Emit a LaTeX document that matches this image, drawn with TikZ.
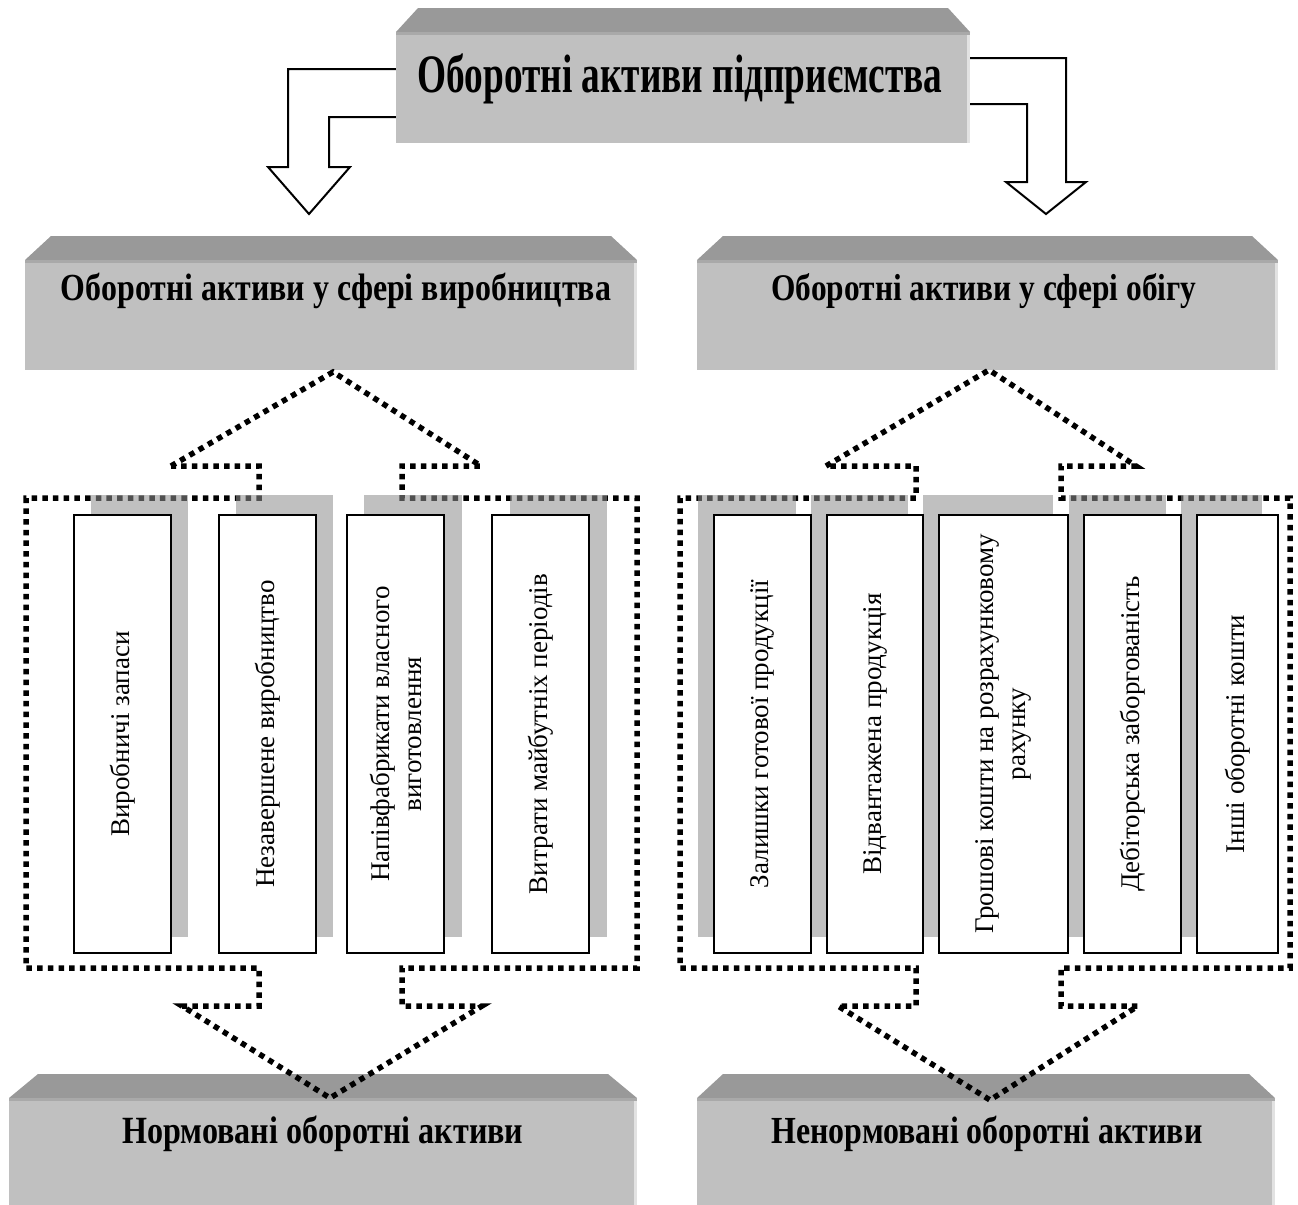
\documentclass[tikz,border=0pt]{standalone}
\usepackage{fontspec}
\setmainfont{Liberation Serif}
\usetikzlibrary{calc,fit}
\definecolor{boxgrey}{HTML}{C0C0C0}
\definecolor{bevelgrey}{HTML}{999999}
\definecolor{edgegrey}{HTML}{E2E2E2}
\definecolor{shadowgrey}{HTML}{8F8F8F}
\tikzset{
  greybox/.style={fill=boxgrey, draw=none, inner sep=0pt},
  bevel/.style={fill=bevelgrey, draw=none},
  hollowarrow/.style={draw=black, fill=white, line width=2bp, line join=miter},
  dotline/.style={draw=black, line width=5.5bp, dash pattern=on 5.5bp off 5.2bp, line join=miter},
  itembox/.style={draw=black, fill=white, line width=2bp, inner sep=0pt},
  shadowbox/.style={fill=shadowgrey, fill opacity=0.56, draw=none},
  itemtext/.style={rotate=90, align=center, font=\fontsize{27bp}{32bp}\selectfont, inner sep=0pt},
  titletext/.style={anchor=base, inner sep=0pt},
}
\newcommand\titlebox[7]{% name, x1, x2, ytop, ybot, inset, bevel height
  \fill[bevel] (#2,#4) -- ({#2+#6},{#4-#7}) -- ({#3-#6},{#4-#7}) -- (#3,#4) -- cycle;
  \node[greybox, fit={(#2,#4) (#3,#5)}] (#1) {};
  \fill[edgegrey] ({#3-3},#4) rectangle (#3,#5);
  \fill[fill=bevelgrey!60!boxgrey] (#2,#4) rectangle (#3,{#4+3});
}
\newcommand\tstretch[3]{\scalebox{1}[#1]{\resizebox{#2}{!}{\bfseries #3}}}
\begin{document}
\begin{tikzpicture}[x=1bp,y=-1bp]
\useasboundingbox (0,0) rectangle (1298,1205);

% ---------- title boxes ----------
\titlebox{top}{396}{970}{32}{143}{22}{24}
\titlebox{prod}{25}{637}{260}{370}{26}{24}
\titlebox{circ}{697}{1278}{260}{370}{26}{24}
\titlebox{norm}{9}{637}{1098}{1215}{29}{24}
\titlebox{nonnorm}{697}{1275}{1098}{1215}{26}{24}

\node[titletext] (toptext) at (680,92) {\tstretch{1.45}{525bp}{Оборотні активи підприємства}};
\node[titletext] (prodtext) at (336,300) {\tstretch{1.2}{550bp}{Оборотні активи у сфері виробництва}};
\node[titletext] (circtext) at (984,300) {\tstretch{1.2}{425bp}{Оборотні активи у сфері обігу}};
\node[titletext] (normtext) at (323,1143) {\tstretch{1.2}{401bp}{Нормовані оборотні активи}};
\node[titletext] (nonnormtext) at (987,1143) {\tstretch{1.2}{431bp}{Ненормовані оборотні активи}};

% ---------- hollow arrows from the top box ----------
\coordinate (ltip) at (309,214);
\coordinate (rtip) at (1046,214);
\draw[hollowarrow] ([yshift=18.5bp]top.west) -- (288,69) -- (288,167) -- (268,167) -- (ltip)
   -- (350,167) -- (329,167) -- (329,117) -- ([yshift=-29.5bp]top.west);
\draw[hollowarrow] ([yshift=29.5bp]top.east) -- (1066,58) -- (1066,182) -- (1086,182) -- (rtip)
   -- (1006,182) -- (1027,182) -- (1027,104) -- ([yshift=-16.5bp]top.east);

% ---------- dotted group outlines with arrows ----------
\draw[dotline] (171,466) -- (333,372) -- (481,466) -- (402,466) -- (402,498) -- (637,498)
  -- (637,968) -- (402,968) -- (402,1006) -- (482,1006) -- (330,1098) -- (182,1006)
  -- (259,1006) -- (259,968) -- (26,968) -- (26,498) -- (259,498) -- (259,466) -- cycle;
\draw[dotline] (826,466) -- (989,370) -- (1136,466) -- (1061,466) -- (1061,498) -- (1290,498)
  -- (1290,968) -- (1061,968) -- (1061,1006) -- (1138,1006) -- (990,1100) -- (838,1006)
  -- (916,1006) -- (916,968) -- (680,968) -- (680,498) -- (916,498) -- (916,466) -- cycle;

% ---------- shadows of the item boxes (over the dotted line) ----------
\foreach \sa/\sb in {91/188, 236/333, 364/462, 510/607, 698/796, 811/908, 923/1053, 1069/1166, 1181/1262}
  \fill[shadowbox] (\sa,495) rectangle (\sb,937);

% ---------- item boxes ----------
\foreach \nm/\xa/\xb/\txt in {
   i1/74/171/{Виробничі запаси},
   i2/219/316/{Незавершене виробництво},
   i3/347/444/{Напівфабрикати власного\\виготовлення},
   i4/492/589/{Витрати майбутніх періодів},
   j1/714/811/{Залишки готової продукції},
   j2/827/923/{Відвантажена продукція},
   j3/939/1068/{Грошові кошти на розрахунковому\\рахунку},
   j4/1084/1181/{Дебіторська заборгованість},
   j5/1197/1278/{Інші оборотні кошти}}
{
  \node[itembox, fit={(\xa,515) (\xb,953)}] (\nm) {};
  \node[itemtext] (\nm t) at (\nm.center) {\txt};
}
\end{tikzpicture}
\end{document}
